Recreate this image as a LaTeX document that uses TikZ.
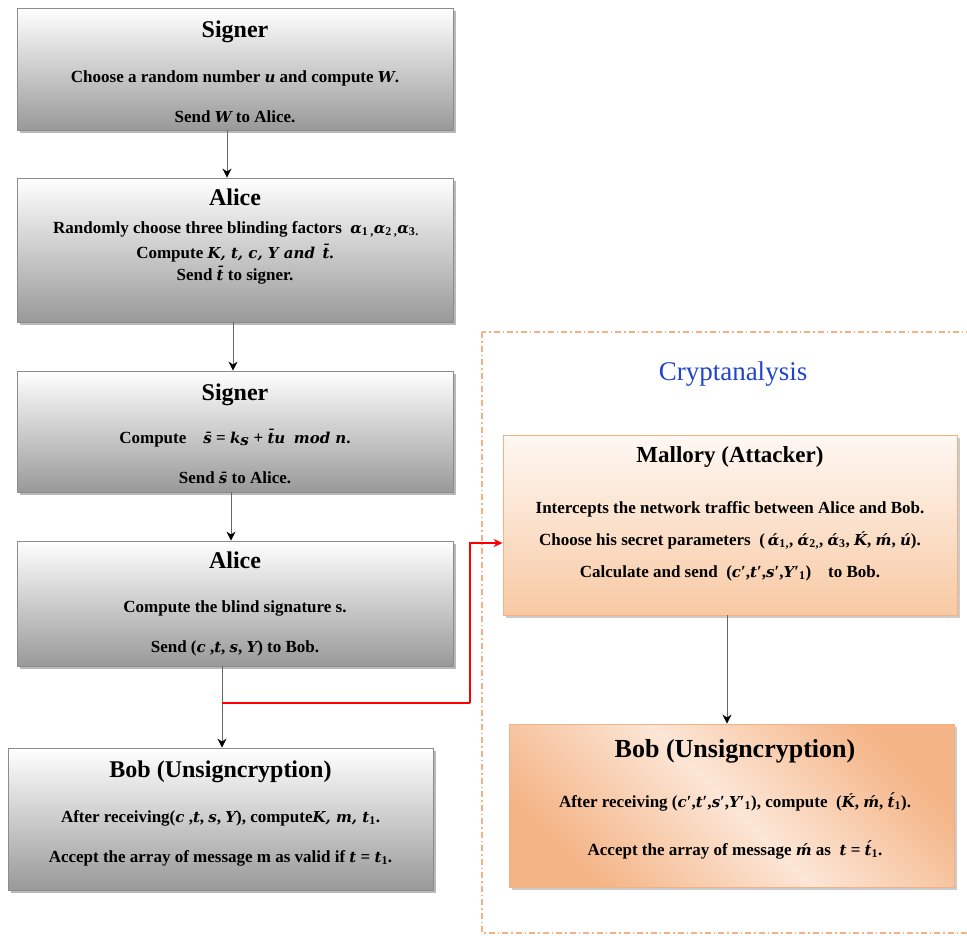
\documentclass[tikz,border=0pt]{standalone}
\usepackage{fontspec}
\setmainfont{Liberation Serif}
\newfontfamily\varfont{DejaVu Serif}
\usetikzlibrary{arrows.meta,shadows,calc}

% type sizes
\newcommand\titlef{\fontsize{24}{28}\selectfont\bfseries}
\newcommand\bodyf{\fontsize{17}{20}\selectfont\bfseries}
% variables are set in a wider bold italic
\newcommand\mv[1]{{\varfont\fontsize{15}{20}\selectfont\bfseries\itshape #1}}
\newcommand\sub[1]{\textsubscript{\bfseries #1}}
\newcommand\pr{{\bfseries′}}

\definecolor{boxedge}{HTML}{8C8C8C}
\definecolor{orangeedge}{HTML}{F4B183}
\definecolor{orangelow}{HTML}{F8C9A3}
\definecolor{orangehigh}{HTML}{FEF8F3}
\definecolor{orangedeep}{HTML}{F4B486}
\definecolor{orangepale}{HTML}{FCE6D6}
\definecolor{titleblue}{HTML}{2244CC}

\tikzset{
  graybox/.style={draw=boxedge, line width=0.8pt, top color=white, bottom color=black!40,
    inner sep=0pt,
    drop shadow={shadow xshift=3pt, shadow yshift=-3pt, fill=black!55, opacity=0.5}},
  malbox/.style={draw=orangeedge, line width=0.8pt, top color=orangehigh, bottom color=orangelow,
    inner sep=0pt,
    drop shadow={shadow xshift=3pt, shadow yshift=-3pt, fill=black!45, opacity=0.45}},
  bobbox/.style={draw=orangeedge, line width=0.8pt, inner sep=0pt,
    left color=orangedeep, right color=orangedeep, middle color=orangepale, shading angle=135,
    drop shadow={shadow xshift=3pt, shadow yshift=-3pt, fill=black!45, opacity=0.45}},
  ttl/.style={anchor=base, font=\titlef, inner sep=0pt},
  txt/.style={anchor=base, font=\bodyf, inner sep=0pt},
  flow/.style={draw=black!60, line width=1pt, -{Stealth[length=9pt,width=9pt,color=black]}},
  attack/.style={draw=red, line width=1.3pt},
  attackarrow/.style={attack, -{Stealth[length=9pt,width=8pt]}},
  zone/.style={draw=orangeedge, line width=1.3pt, dash pattern=on 6pt off 3pt on 1.5pt off 3pt},
}

\begin{document}
\begin{tikzpicture}[x=1pt, y=-1pt]
\useasboundingbox (0,0) rectangle (967,935);
\clip (0,0) rectangle (967,935);

% ---- left column: the blind signature protocol ----
\node[graybox, minimum width=436pt, minimum height=122pt] (s1) at (235,69) {};
\node[ttl] (s1t) at (235,37) {Signer};
\node[txt] (s1a) at (235,82) {Choose a random number \mv{u} and compute \mv{W}.};
\node[txt] (s1b) at (235,122) {Send \mv{W} to Alice.};

\node[graybox, minimum width=436pt, minimum height=144pt] (a1) at (235,250) {};
\node[ttl] (a1t) at (235,205) {Alice};
\node[txt] (a1a) at (236,233) {Randomly choose three blinding factors\enspace
  \mv{α}\sub{1}\sub{\,,}\mv{α}\sub{2}\sub{\,,}\mv{α}\sub{3}\sub{.}};
\node[txt] (a1b) at (235,258) {Compute \mv{K, t, c, Y and\enspace\={t}}.};
\node[txt] (a1c) at (235,280) {Send \mv{\={t}} to signer.};

\node[graybox, minimum width=436pt, minimum height=121pt] (s2) at (235,431.5) {};
\node[ttl] (s2t) at (235,400) {Signer};
\node[txt] (s2a) at (235,443) {Compute\quad \mv{\={s}} = \mv{k}\sub{\mv{s}} + \mv{\={t}u}\enspace\mv{mod n}.};
\node[txt] (s2b) at (235,483) {Send \mv{\={s}} to Alice.};

\node[graybox, minimum width=436pt, minimum height=125pt] (a2) at (235,603.5) {};
\node[ttl] (a2t) at (235,568) {Alice};
\node[txt] (a2a) at (235,612) {Compute the blind signature s.};
\node[txt] (a2b) at (235,652) {Send (\mv{c} ,\mv{t},\ \mv{s},\ \mv{Y}) to Bob.};

\node[graybox, minimum width=425pt, minimum height=142pt] (b1) at (220.5,819) {};
\node[ttl] (b1t) at (220.5,777) {Bob (Unsigncryption)};
\node[txt] (b1a) at (220.5,822) {After receiving(\mv{c} ,\mv{t},\ \mv{s},\ \mv{Y}), compute\mv{K, m, t}\sub{1}.};
\node[txt] (b1b) at (220.5,862) {Accept the array of message m as valid if \mv{t} = \mv{t}\sub{1}.};

% ---- right column: the attack ----
\draw[zone] (482,332) rectangle (990,933);
\node[anchor=base, font=\fontsize{27}{31}\selectfont, text=titleblue, inner sep=0pt] (crypt) at (733,380) {Cryptanalysis};

\node[malbox, minimum width=454pt, minimum height=180pt] (mal) at (730,525) {};
\node[ttl, font=\fontsize{23}{27}\selectfont\bfseries] (malt) at (730,462) {Mallory (Attacker)};
\node[txt] (mala) at (730,513) {Intercepts the network traffic between Alice and Bob.};
\node[txt] (malb) at (730,545) {Choose his secret parameters\enspace(\,\mv{ά}\sub{1}\sub{,}, \mv{ά}\sub{2}\sub{,}, \mv{ά}\sub{3}, \mv{\'K}, \mv{\'m}, \mv{\'u}).};
\node[txt] (malc) at (730,577) {Calculate and send\enspace(\mv{c}\pr,\mv{t}\pr,\mv{s}\pr,\mv{Y}\pr\sub{1})\quad to Bob.};

\node[bobbox, minimum width=445pt, minimum height=163pt] (b2) at (731.5,805.5) {};
\node[ttl, font=\fontsize{26}{30}\selectfont\bfseries] (b2t) at (735,757) {Bob (Unsigncryption)};
\node[txt] (b2a) at (735,807) {After receiving (\mv{c}\pr,\mv{t}\pr,\mv{s}\pr,\mv{Y}\pr\sub{1}), compute\enspace(\mv{\'K}, \mv{\'m}, \mv{\'t}\sub{1}).};
\node[txt] (b2b) at (735,855) {Accept the array of message \mv{\'m} as\enspace \mv{t} = \mv{\'t}\sub{1}.};

% ---- connectors ----
\draw[flow] ([xshift=-8pt]s1.south) -- ([xshift=-8pt]s1.south |- a1.north);
\draw[flow] ([xshift=-2pt]a1.south) -- ([xshift=-2pt]a1.south |- s2.north);
\draw[flow] ([xshift=-4pt]s2.south) -- ([xshift=-4pt]s2.south |- a2.north);
\draw[flow] ([xshift=-13pt]a2.south) -- ([xshift=-13pt]a2.south |- b1.north);
\draw[flow] ([xshift=-3pt]mal.south) -- ([xshift=-3pt]mal.south |- b2.north);

% intercepted branch towards the attacker
\coordinate (tap) at (222,703);
\coordinate (bend) at (470,703);
\draw[attack] (tap) -- (bend);
\draw[attackarrow] (bend) |- ([yshift=-18pt]mal.west);
\end{tikzpicture}
\end{document}
